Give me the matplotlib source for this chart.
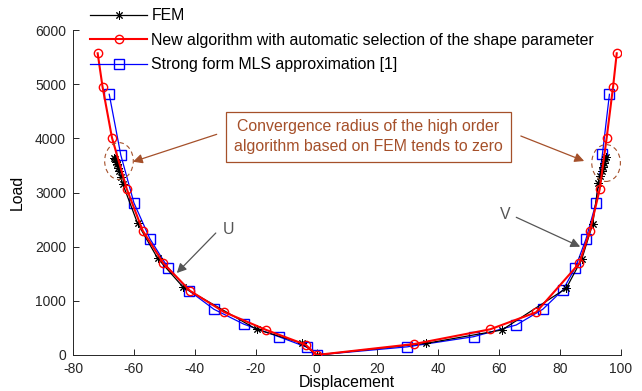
import numpy as np
import matplotlib
matplotlib.use("Agg")
import matplotlib.pyplot as plt
from matplotlib.patches import Ellipse

plt.rcParams["font.family"] = ["Liberation Sans", "DejaVu Sans"]
plt.rcParams["axes.unicode_minus"] = False

# ---------- data (load vs displacement, U branch < 0, V branch > 0) ----------
fem_x = [-66.4, -66.1, -65.8, -65.5, -65.2, -64.8, -64.3, -63.6, -58.8, -52.2, -43.8,
         -19.7, -4.7, 0.0, 36.1, 60.9, 82.0, 87.1, 90.7, 92.6, 93.2, 93.7, 94.1, 94.4, 94.7, 95.0]
fem_y = [3640, 3610, 3570, 3520, 3460, 3390, 3290, 3150, 2431, 1785, 1250,
         474, 216, 0, 216, 462, 1231, 1767, 2418, 3170, 3300, 3400, 3480, 3550, 3610, 3650]

new_x = [-71.9, -70.3, -67.2, -62.3, -57.1, -50.3, -41.6, -30.4, -16.5, -3.6, 0.0,
         32.1, 57.0, 72.1, 86.3, 89.8, 93.0, 95.3, 97.4, 98.6]
new_y = [5570, 4953, 4012, 3059, 2295, 1693, 1187, 794, 462, 190, 0,
         203, 474, 788, 1693, 2295, 3059, 4012, 4953, 5570]

mls_x = [-68.1, -64.3, -60.0, -54.7, -48.8, -41.9, -33.7, -23.8, -12.4, -3.0, 0.0,
         29.7, 51.6, 65.6, 74.3, 80.9, 85.0, 88.5, 91.8, 93.9, 96.2]
mls_y = [4813, 3692, 2811, 2141, 1612, 1187, 844, 567, 338, 140, 0,
         150, 338, 554, 844, 1200, 1612, 2141, 2811, 3710, 4813]

note_lines = ["Convergence radius of the high order", "algorithm based on FEM tends to zero"]
brown = "#A5502A"
grey = "#262626"
fs = 11.4

fig = plt.figure(figsize=(6.42, 3.91), dpi=100)
ax = fig.add_axes([73 / 642, 1 - 355 / 391, (621 - 73) / 642, (355 - 30) / 391])

l_mls, = ax.plot(mls_x, mls_y, color="blue", lw=0.9, marker="s", ms=6.5, mfc="none",
                 mec="blue", mew=1.0, zorder=3)
l_fem, = ax.plot(fem_x, fem_y, color="black", lw=0.9, marker=(8, 2, 0), ms=6,
                 mew=0.7, zorder=4)
l_new, = ax.plot(new_x, new_y, color="red", lw=1.5, marker="o", ms=6, mfc="none",
                 mec="red", mew=1.0, zorder=5)

ax.set_xlim(-80, 100)
ax.set_ylim(0, 6000)
ax.set_xticks(np.arange(-80, 101, 20))
ax.set_yticks(np.arange(0, 6001, 1000))
for s in ("top", "right"):
    ax.spines[s].set_visible(False)
for s in ("left", "bottom"):
    ax.spines[s].set_color(grey)
    ax.spines[s].set_linewidth(0.7)
ax.tick_params(direction="in", length=4, width=0.7, colors=grey, labelsize=10, pad=5)
ax.set_xlabel("Displacement", fontsize=fs, color="black", labelpad=-1)
ax.set_ylabel("Load", fontsize=fs, color="black", labelpad=7)

# dashed circles around the FEM limit points
for cx, cy in [(-64.9, 3581), (95.1, 3544)]:
    ax.add_patch(Ellipse((cx, cy), 9.4, 680, fill=False, ec=brown, ls=(0, (4, 3)),
                         lw=0.8, zorder=6))

# note box with two arrows
ax.text(17.0, 4033, "\n".join(note_lines), color=brown, fontsize=fs, ha="center",
        va="center", linespacing=1.35, zorder=7,
        bbox=dict(boxstyle="square,pad=0.5", fc="white", ec=brown, lw=0.9))
arr = dict(arrowstyle="-|>", color=brown, lw=0.9, mutation_scale=14, shrinkA=0, shrinkB=0)
ax.annotate("", xy=(-60.3, 3568), xytext=(-32.8, 4074), arrowprops=arr, zorder=7)
ax.annotate("", xy=(87.9, 3581), xytext=(67.1, 4043), arrowprops=arr, zorder=7)

# branch labels
garr = dict(arrowstyle="-|>", color="#555555", lw=0.9, mutation_scale=14, shrinkA=0, shrinkB=0)
ax.text(-28.9, 2326, "U", color="#555555", fontsize=fs, ha="center", va="center")
ax.annotate("", xy=(-45.9, 1514), xytext=(-33.1, 2252), arrowprops=garr)
ax.text(62.0, 2603, "V", color="#555555", fontsize=fs, ha="center", va="center")
ax.annotate("", xy=(86.6, 1999), xytext=(65.6, 2542), arrowprops=garr)

fig.legend([l_fem, l_new, l_mls],
           ["FEM", "New algorithm with automatic selection of the shape parameter",
            "Strong form MLS approximation [1]"],
           loc="upper left", bbox_to_anchor=(84 / 642, 1 - 2 / 391), frameon=False,
           fontsize=fs, handlelength=3.6, handletextpad=0.25, labelspacing=0.6,
           borderaxespad=0, markerscale=1.0)

fig.savefig("out.png", dpi=100)
